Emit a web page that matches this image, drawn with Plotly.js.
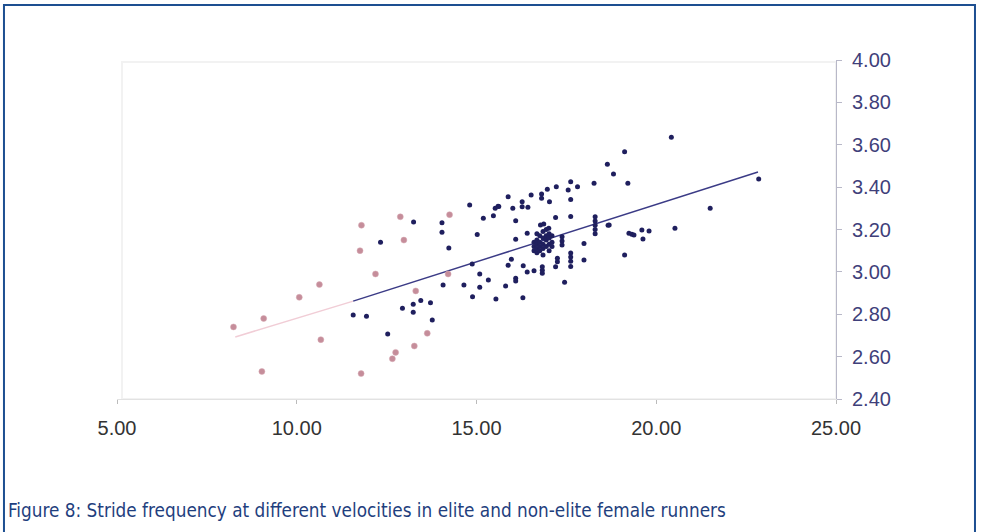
<!DOCTYPE html>
<html>
<head>
<meta charset="utf-8">
<script src="https://cdn.plot.ly/plotly-3.0.1.min.js"></script>
<style>
  html, body { margin: 0; padding: 0; background: #ffffff; }
  #chart { width: 981px; height: 532px; }
</style>
</head>
<body>
<div id="chart"></div>
<script>
// Non-elite runners (pink) — velocity (km/h) and stride frequency (Hz)
const nonEliteVelocity = [8.24, 9.08, 10.07, 10.63, 10.67, 9.03, 11.80, 11.76, 12.19, 12.88,
  12.98, 11.79, 13.31, 13.63, 13.27, 12.75, 12.66, 14.25, 14.21];
const nonEliteFreq = [2.74, 2.78, 2.88, 2.94, 2.68, 2.53, 3.22, 3.10, 2.99, 3.26,
  3.15, 2.52, 2.91, 2.71, 2.65, 2.62, 2.59, 3.27, 2.99];

// Elite runners (navy)
const eliteVelocity = [
  13.25, 12.33, 14.04, 14.04, 14.23, 11.57, 11.94, 12.94, 13.24, 13.45,
  13.72, 13.24, 13.77, 12.53, 14.07, 14.81, 15.19, 15.47, 15.62, 15.02,
  14.88, 15.09, 15.33, 14.65, 15.09, 14.89, 15.54, 15.81, 16.29, 17.45,
  15.88, 15.60, 15.52, 16.01, 16.27, 16.27, 16.43, 16.52, 16.81, 16.81,
  17.03, 16.97, 17.22, 17.62, 17.81, 17.55, 17.62, 18.27, 18.81, 19.21,
  20.42, 19.12, 18.64, 22.85, 21.50, 18.66, 19.24, 19.32, 19.38, 19.60,
  19.80, 19.63, 20.52, 19.12, 16.09, 17.20, 17.62, 18.30, 18.30, 18.30,
  18.30, 18.30, 18.69, 16.78, 16.87, 17.01, 16.41, 16.09, 17.38, 17.38,
  17.38, 17.99, 17.99, 17.62, 17.62, 17.62, 17.62, 17.25, 17.25, 17.20,
  16.83, 16.83, 16.83, 16.60, 16.41, 16.30, 15.88, 15.97, 16.09, 16.09,
  16.60, 16.60, 16.60, 16.68, 16.68, 16.68, 16.68, 16.68, 16.76, 16.76,
  16.76, 16.76, 16.85, 16.85, 16.85, 16.85, 16.85, 16.94, 16.94, 16.94,
  16.94, 17.02, 17.02, 17.02, 17.02, 17.10, 17.10, 17.10];
const eliteFreq = [
  3.235, 3.14, 3.232, 3.187, 3.113, 2.796, 2.79, 2.828, 2.847, 2.865,
  2.854, 2.809, 2.773, 2.707, 2.938, 3.316, 3.253, 3.265, 3.308, 3.176,
  3.037, 2.99, 2.962, 2.938, 2.927, 2.883, 2.872, 2.933, 2.878, 2.951,
  3.355, 3.31, 3.30, 3.30, 3.331, 3.307, 3.305, 3.363, 3.367, 3.347,
  3.331, 3.39, 3.402, 3.425, 3.402, 3.386, 3.342, 3.418, 3.462, 3.418,
  3.635, 3.567, 3.508, 3.438, 3.30, 3.22, 3.182, 3.177, 3.174, 3.198,
  3.193, 3.155, 3.206, 3.08, 3.241, 3.257, 3.261, 3.26, 3.24, 3.22,
  3.20, 3.18, 3.221, 3.221, 3.226, 3.206, 3.182, 3.154, 3.166, 3.146,
  3.127, 3.134, 3.056, 3.089, 3.07, 3.05, 3.025, 3.064, 3.048, 3.024,
  3.024, 3.008, 2.993, 3.005, 3.00, 3.029, 3.031, 3.059, 2.97, 2.957,
  3.14, 3.12, 3.10, 3.18, 3.15, 3.13, 3.11, 3.09, 3.17, 3.14,
  3.12, 3.10, 3.19, 3.16, 3.13, 3.11, 3.08, 3.20, 3.17, 3.15,
  3.12, 3.18, 3.16, 3.13, 3.10, 3.17, 3.14, 3.12];

// Trend lines (end points)
const nonEliteTrendX = [8.29, 11.57];
const nonEliteTrendY = [2.693, 2.862];
const eliteTrendX = [11.57, 22.83];
const eliteTrendY = [2.862, 3.471];

// Axis ticks
const xTicks = [5, 10, 15, 20, 25];
const yTicks = [2.4, 2.6, 2.8, 3.0, 3.2, 3.4, 3.6, 3.8, 4.0];

const caption = "Figure 8: Stride frequency at different velocities in elite and non-elite female runners";

const SANS = '"Liberation Sans", Arial, Helvetica, sans-serif';

const traces = [
  { x: nonEliteTrendX, y: nonEliteTrendY, mode: 'lines', type: 'scatter',
    line: { color: '#f1cdd6', width: 1.5 }, hoverinfo: 'skip', showlegend: false },
  { x: eliteTrendX, y: eliteTrendY, mode: 'lines', type: 'scatter',
    line: { color: '#3b3b86', width: 1.5 }, hoverinfo: 'skip', showlegend: false },
  { x: nonEliteVelocity, y: nonEliteFreq, mode: 'markers', type: 'scatter',
    marker: { color: '#c58d9a', size: 6, line: { color: '#d7a9b3', width: 0.5 } }, showlegend: false },
  { x: eliteVelocity, y: eliteFreq, mode: 'markers', type: 'scatter',
    marker: { color: '#1f1f5e', size: 5 }, showlegend: false }
];

const layout = {
  width: 981, height: 532,
  margin: { l: 117, r: 145, t: 60, b: 133, pad: 0 },
  paper_bgcolor: '#ffffff',
  plot_bgcolor: '#ffffff',
  showlegend: false,
  font: { family: SANS },
  xaxis: {
    range: [5, 25], tickvals: xTicks, tickformat: '.2f',
    showgrid: false, zeroline: false,
    showline: true, linecolor: '#e2e2e2', linewidth: 1,
    ticks: 'outside', ticklen: 4, tickcolor: '#bbbbbb',
    ticklabelstandoff: 7,
    tickfont: { size: 20, color: '#333333', family: SANS }
  },
  yaxis: {
    range: [2.4, 4.0], tickvals: yTicks, tickformat: '.2f',
    side: 'right',
    showgrid: false, zeroline: false,
    showline: true, linecolor: '#b8b8c8', linewidth: 1,
    ticks: 'outside', ticklen: 5, tickcolor: '#b8b8c8',
    ticklabelstandoff: 6,
    tickfont: { size: 20, color: '#3f3f7a', family: SANS }
  },
  shapes: [
    { type: 'rect', xref: 'paper', yref: 'paper', x0: 0.007, x1: 1, y0: 0, y1: 0.994,
      line: { color: '#f2f2f2', width: 2 }, layer: 'below' },
    { type: 'rect', xref: 'paper', yref: 'paper', x0: -0.1572, x1: 1.1933, y0: -0.45, y1: 1.1622,
      line: { color: '#1d4f91', width: 2 } }
  ],
  annotations: [
    { text: caption, xref: 'paper', yref: 'paper', x: -0.1544, y: -0.330,
      xanchor: 'left', yanchor: 'middle', showarrow: false,
      font: { family: '"Liberation Sans Narrow", "DejaVu Sans Condensed", sans-serif', size: 18.8, color: '#1f3f7e' } }
  ]
};

Plotly.newPlot('chart', traces, layout, { displayModeBar: false, staticPlot: true });
</script>
</body>
</html>
